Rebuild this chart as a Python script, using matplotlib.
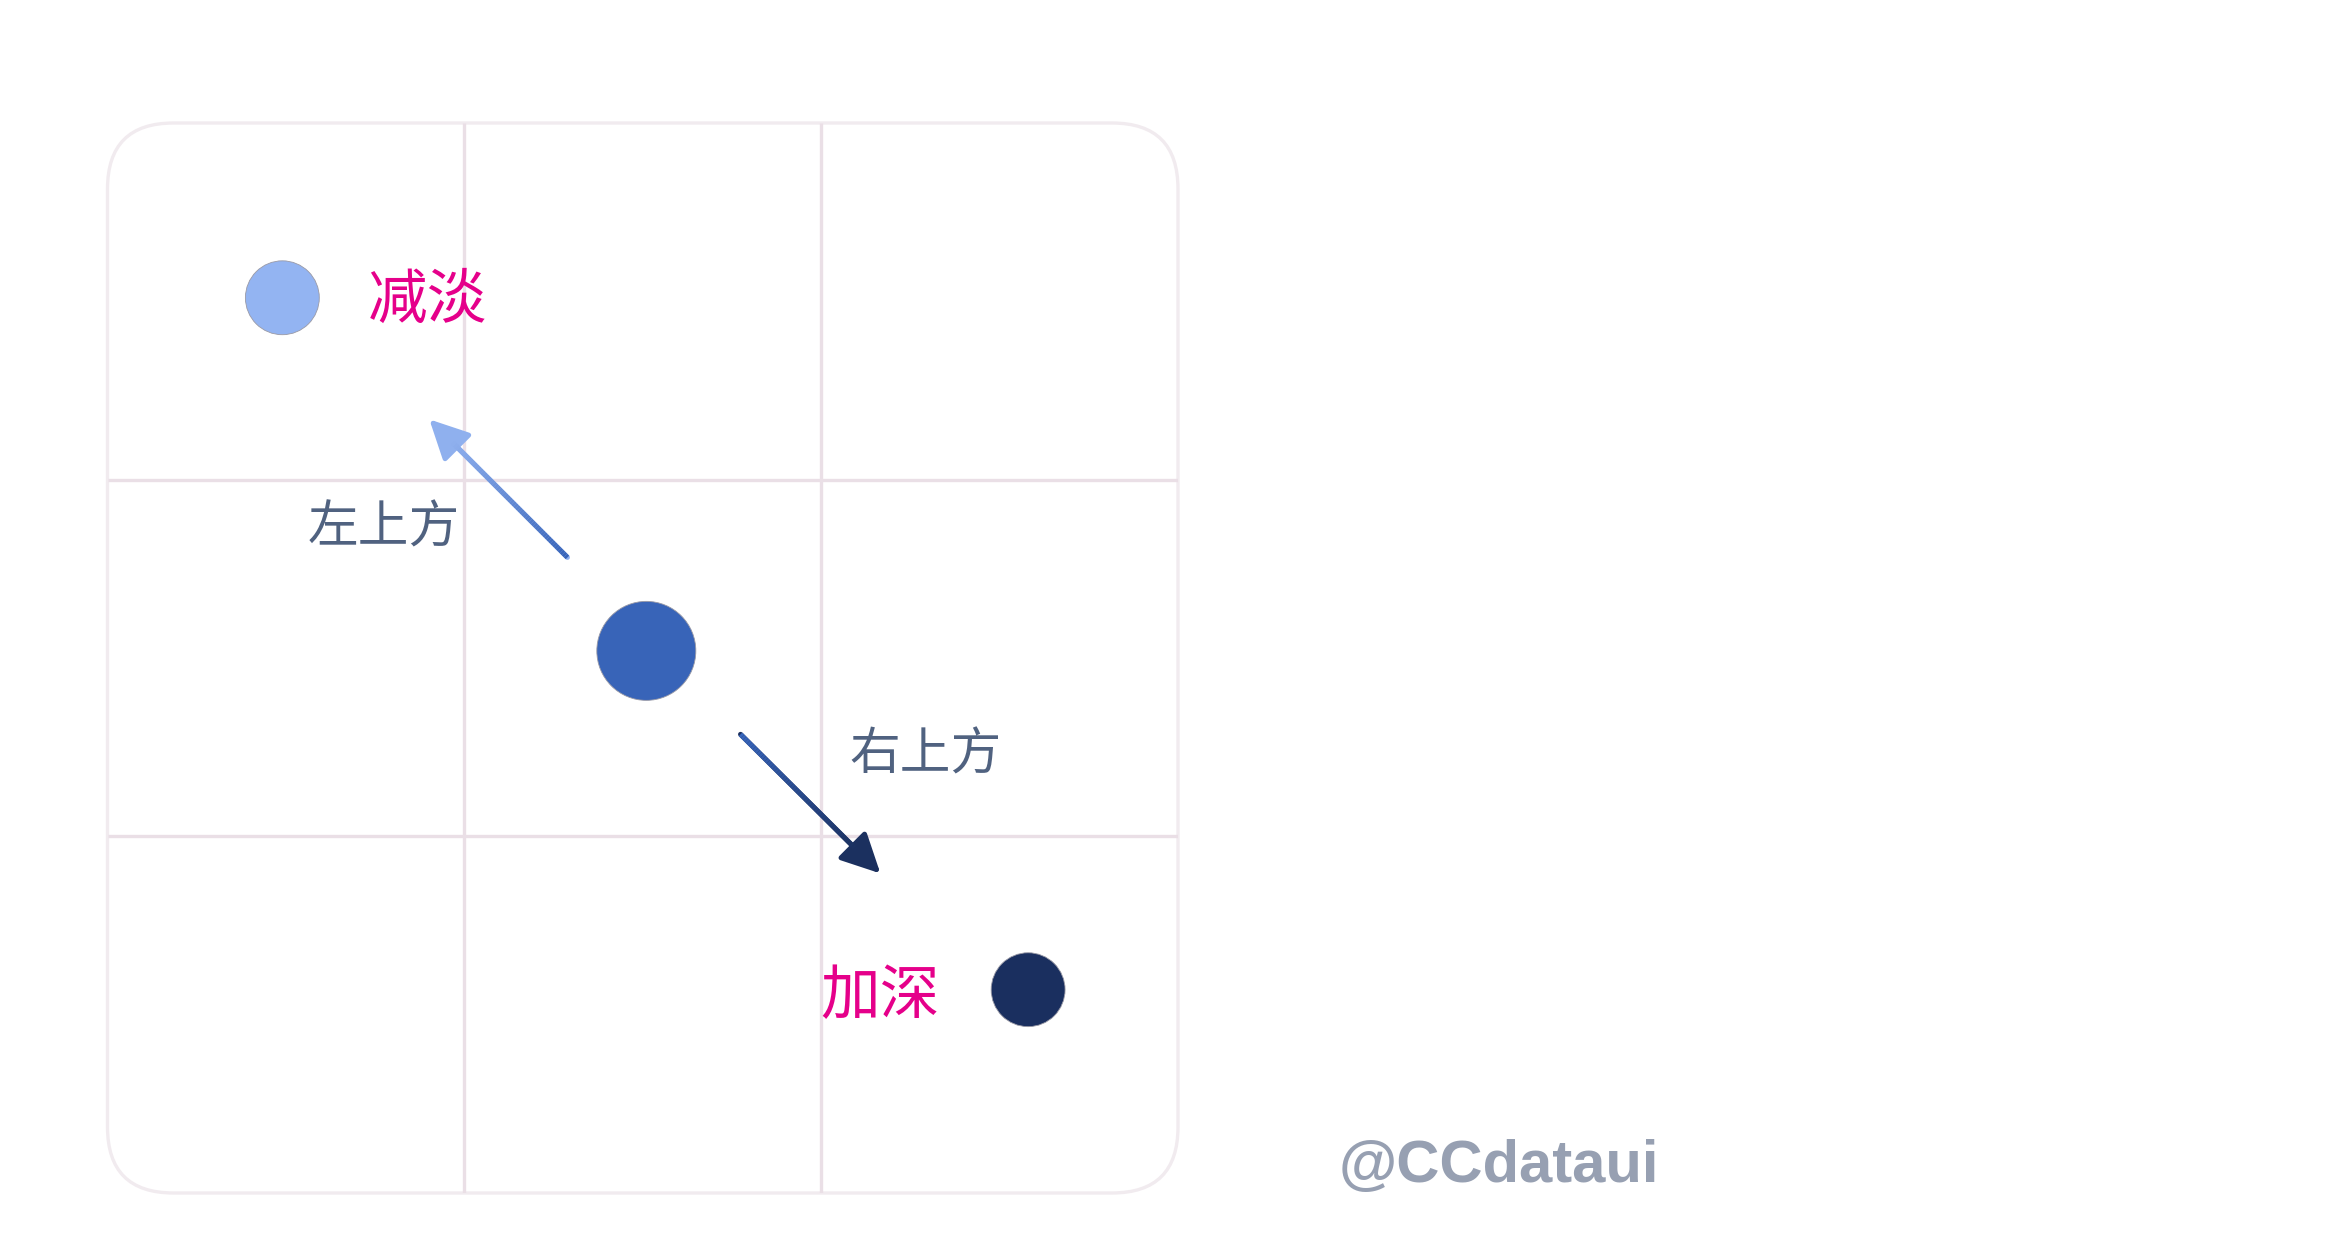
import numpy as np
import matplotlib
matplotlib.use("Agg")
import matplotlib.pyplot as plt
from matplotlib.patches import FancyBboxPatch
from matplotlib.collections import LineCollection
from matplotlib.colors import to_rgb

plt.rcParams['font.family'] = ['Noto Sans CJK SC', 'DejaVu Sans']

# ---- data ----
dot_x = [0.49, 1.51, 2.58]
dot_y = [2.51, 1.52, 0.57]
dot_names = ['light', 'base', 'dark']

arrow_start = [(1.289, 1.782), (1.774, 1.286)]
arrow_end = [(0.902, 2.169), (2.166, 0.896)]
arrow_labels = ['左上方', '右上方']
arrow_label_xy = [(0.775, 1.862), (2.293, 1.226)]

tone_labels = ['减淡', '加深']
tone_label_xy = [(0.898, 2.500), (2.164, 0.548)]

grid_n = 3
watermark = '@CCdataui'

# ---- style ----
dot_colors = ['#93B4F2', '#3864B8', '#1A2F5F']
dot_sizes = [2830, 5080, 2830]
arrow_grad = [('#3763B8', '#8FB0EE'), ('#3866BC', '#1B305F')]
label_color = '#506280'
tone_color = '#E5008A'
border_color = '#F1EBEF'
grid_color = '#EADFE6'

fig = plt.figure(figsize=(23.3, 12.6), dpi=100)
ax = fig.add_axes([107.5 / 2330, 1 - 1193 / 1260, 1070.5 / 2330, 1070 / 1260])
ax.set_xlim(0, grid_n)
ax.set_ylim(0, grid_n)
ax.axis('off')

box = FancyBboxPatch((0, 0), grid_n, grid_n,
                     boxstyle="round,pad=0,rounding_size=0.185",
                     facecolor='white', edgecolor=border_color, lw=2.4,
                     clip_on=False, zorder=1)
ax.add_patch(box)
for k in range(1, grid_n):
    ax.plot([k, k], [0, grid_n], color=grid_color, lw=2.4, zorder=2,
            solid_capstyle='butt')
    ax.plot([0, grid_n], [k, k], color=grid_color, lw=2.4, zorder=2,
            solid_capstyle='butt')

ax.scatter(dot_x, dot_y, s=dot_sizes, c=dot_colors, edgecolors='#9A9AA6',
           linewidths=0.6, zorder=5)

for (x0, y0), (x1, y1), (c0, c1) in zip(arrow_start, arrow_end, arrow_grad):
    ax.annotate('', xy=(x1, y1), xytext=(x0, y0),
                arrowprops=dict(arrowstyle='-|>,head_length=24,head_width=12',
                                mutation_scale=1, color=c1, lw=3.6,
                                shrinkA=0, shrinkB=0),
                zorder=4)
    # gradient shaft on top, stopping short of the head
    t = np.linspace(0, 0.83, 60)
    px = x0 + (x1 - x0) * t
    py = y0 + (y1 - y0) * t
    segs = np.stack([np.column_stack([px[:-1], py[:-1]]),
                     np.column_stack([px[1:], py[1:]])], axis=1)
    a, b = np.array(to_rgb(c0)), np.array(to_rgb(c1))
    cols = [a + (b - a) * v for v in t[:-1] / 0.83]
    ax.add_collection(LineCollection(segs, colors=cols, linewidths=3.6,
                                     capstyle='butt', zorder=4.5))

for txt, (x, y) in zip(arrow_labels, arrow_label_xy):
    ax.text(x, y, txt, fontsize=36.5, color=label_color, ha='center',
            va='center', weight='medium', zorder=6)

for txt, (x, y) in zip(tone_labels, tone_label_xy):
    ax.text(x, y, txt, fontsize=43, color=tone_color, ha='center',
            va='center', zorder=6)

fig.text(1499 / 2330, 1 - 1166 / 1260, watermark, fontsize=43,
         family=['Liberation Sans', 'DejaVu Sans'], weight='bold',
         color='#97A0B2', ha='center', va='center')

fig.savefig('out.png', dpi=100, facecolor='white')
